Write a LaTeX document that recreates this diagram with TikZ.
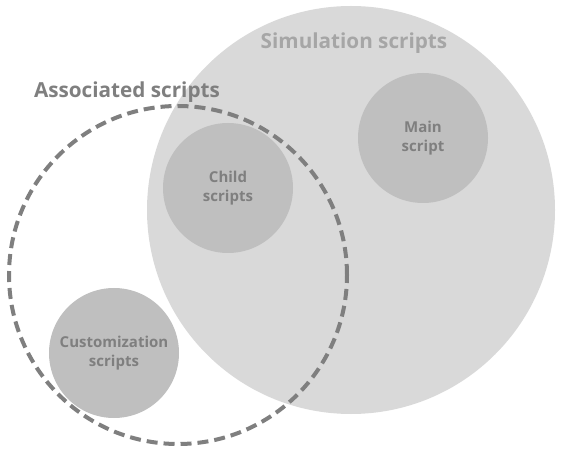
\documentclass[tikz,border=0pt]{standalone}
\usepackage{tikz}
\usepackage{fontspec}
\setmainfont{Open Sans}
\definecolor{simfill}{HTML}{D9D9D9}
\definecolor{innerfill}{HTML}{BFBFBF}
\definecolor{darktext}{HTML}{7F7F7F}
\definecolor{lighttext}{HTML}{A6A6A6}

\begin{document}
\begin{tikzpicture}[x=1pt,y=-1pt,
    inner node/.style={circle,fill=innerfill,inner sep=0pt,minimum size=130pt,
      align=center,text=darktext,font=\bfseries\fontsize{15}{19}\selectfont},
    title node/.style={font=\bfseries\fontsize{20.7}{23}\selectfont}]

\useasboundingbox (0,0) rectangle (562,454);

\node[fill=simfill, circle, inner sep=0pt, minimum size=408pt] (sim) at (351,210) {};
\node[title node, text=lighttext] (simlabel) at (354,43) {Simulation scripts};

\node[inner node] (main) at (423,138) {Main\\script};
\node[inner node] (child) at (228,188) {Child\\scripts};
\node[inner node] (custom) at (114,353) {Customization\\scripts};

\node[circle, draw=darktext, line width=4pt, dash pattern=on 11pt off 6pt,
  inner sep=0pt, minimum size=338pt] (assoc) at (178,275) {};
\node[title node, text=darktext] (assoclabel) at (127,92) {Associated scripts};

\end{tikzpicture}
\end{document}
